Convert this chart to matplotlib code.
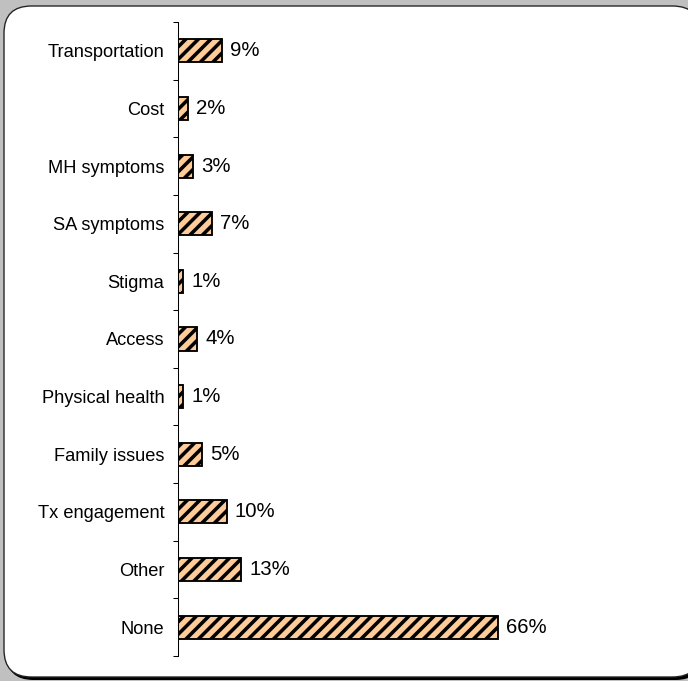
import numpy as np
import matplotlib.pyplot as plt
from matplotlib.patches import FancyBboxPatch

plt.rcParams['font.family'] = ['Liberation Sans', 'DejaVu Sans']
plt.rcParams['hatch.linewidth'] = 3.4

categories = ['Transportation', 'Cost', 'MH symptoms', 'SA symptoms', 'Stigma', 'Access',
              'Physical health', 'Family issues', 'Tx engagement', 'Other', 'None']
values = [9, 2, 3, 7, 1, 4, 1, 5, 10, 13, 66]
labels = ['9%', '2%', '3%', '7%', '1%', '4%', '1%', '5%', '10%', '13%', '66%']

W, H, DPI = 688, 681, 75
fig = plt.figure(figsize=(W / DPI, H / DPI), dpi=DPI, facecolor='#c0c0c0')

# rounded frame with a dark shadow bottom/right
shadow = FancyBboxPatch((6 / W, 1 / H), 697 / W, 672 / H,
                        boxstyle='round,pad=0,rounding_size=0.04',
                        transform=fig.transFigure, facecolor='black', edgecolor='none', zorder=-2)
frame = FancyBboxPatch((4 / W, 4 / H), 696 / W, 671 / H,
                       boxstyle='round,pad=0,rounding_size=0.04',
                       transform=fig.transFigure, facecolor='white', edgecolor='#222222',
                       linewidth=1.3, zorder=-1)
fig.patches.extend([shadow, frame])

ax = fig.add_axes([178 / W, 1 - 656 / H, 485 / W, 634 / H])
ax.patch.set_alpha(0)
y = np.arange(len(categories))
ax.barh(y, values, height=0.4, color='#ffcc99', edgecolor='black', linewidth=1.8, hatch='//')
for yi, v, lab in zip(y, values, labels):
    ax.text(v + 1.7, yi, lab, va='center', ha='left', fontsize=19.5)

ax.set_xlim(0, 100)
ax.set_ylim(len(categories) - 0.5, -0.5)
ax.set_yticks(y)
ax.set_yticklabels(categories, fontsize=17.5)
ax.set_yticks(np.arange(-0.5, len(categories)), minor=True)
ax.tick_params(axis='y', which='major', length=0, pad=13)
ax.tick_params(axis='y', which='minor', length=5, width=1)
ax.set_xticks([])
for s in ['top', 'right', 'bottom']:
    ax.spines[s].set_visible(False)
ax.spines['left'].set_linewidth(1)

fig.savefig('out.png', dpi=DPI, facecolor=fig.get_facecolor())
